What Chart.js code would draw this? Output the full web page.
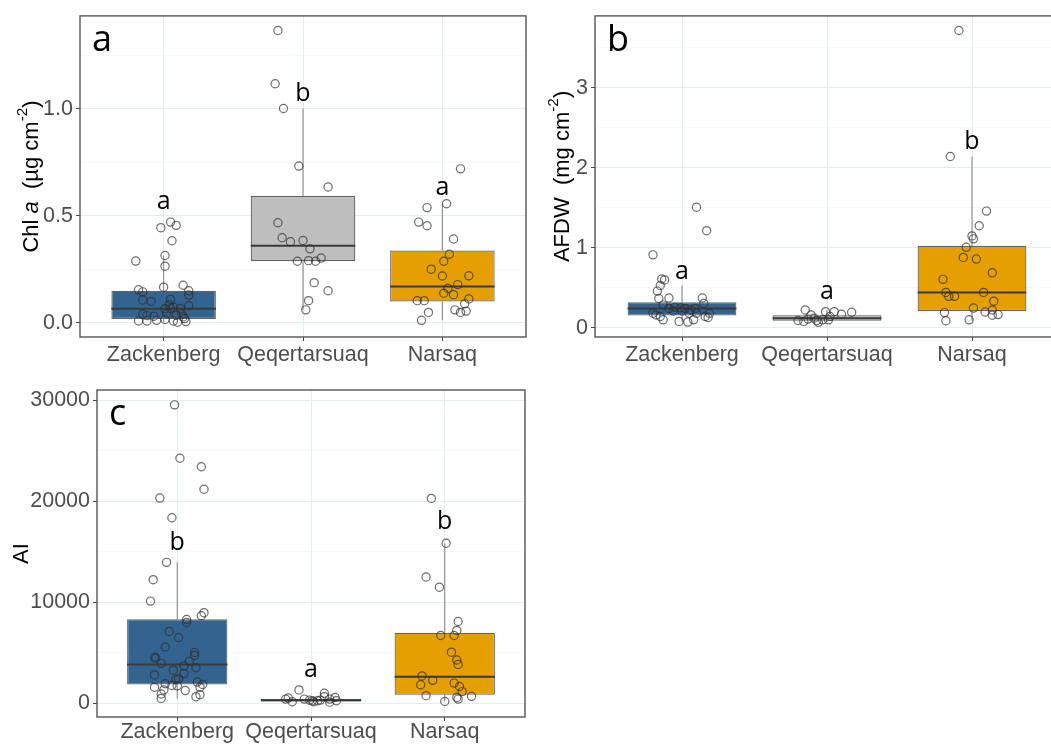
<!DOCTYPE html>
<html>
<head>
<meta charset="utf-8">
<title>Chl a, AFDW and AI by site</title>
<script src="https://cdn.jsdelivr.net/npm/chart.js@4.4.1/dist/chart.umd.min.js"></script>
<style>
  html, body { margin: 0; padding: 0; background: #fff; }
  body { position: relative; width: 1051px; height: 744px; overflow: hidden; }
  canvas { position: absolute; }
</style>
</head>
<body>
<canvas id="chlChart" width="540" height="372" style="left:0;top:0"></canvas>
<canvas id="afdwChart" width="540" height="372" style="left:530px;top:0"></canvas>
<canvas id="aiChart" width="540" height="372" style="left:0;top:372px"></canvas>
<script>
const sites = ["Zackenberg", "Qeqertarsuaq", "Narsaq"];
const siteColors = ["#33638f", "#bebebe", "#e69f00"];

// panel a: Chl a (µg cm-2)
const chlZack = [0.471, 0.445, 0.456, 0.384, 0.315, 0.289, 0.265, 0.176, 0.167, 0.155, 0.145, 0.150, 0.130, 0.107, 0.100, 0.110, 0.080, 0.066, 0.073, 0.084, 0.067, 0.040, 0.034, 0.031, 0.043, 0.035, 0.028, 0.009, 0.009, 0.012, 0.016, 0.009, 0.003, 0.006, 0.020, 0.066, 0.043];
const chlZackJit = [0.05, -0.02, 0.09, 0.06, 0.01, -0.20, 0.01, 0.14, 0, -0.18, -0.15, 0.18, 0.18, -0.15, -0.09, 0.05, 0.18, 0.01, 0.07, 0.04, 0.12, -0.15, -0.12, -0.07, 0.02, 0.09, 0.14, -0.18, -0.12, -0.05, 0.01, 0.07, 0.10, 0.16, 0.15, 0.05, 0.13];
const chlQeq = [1.367, 1.118, 1.002, 0.733, 0.635, 0.468, 0.398, 0.379, 0.385, 0.346, 0.303, 0.288, 0.291, 0.288, 0.188, 0.150, 0.104, 0.061];
const chlQeqJit = [-0.18, -0.20, -0.14, -0.03, 0.18, -0.18, -0.15, -0.09, 0, 0.05, 0.13, -0.04, 0.04, 0.09, 0.08, 0.18, 0.04, 0.02];
const chlNar = [0.720, 0.557, 0.539, 0.471, 0.454, 0.392, 0.321, 0.288, 0.251, 0.219, 0.220, 0.179, 0.162, 0.139, 0.132, 0.104, 0.104, 0.112, 0.089, 0.061, 0.049, 0.055, 0.049, 0.012];
const chlNarJit = [0.13, 0.03, -0.11, -0.17, -0.11, 0.08, 0.05, 0.01, -0.08, 0, 0.19, 0.11, 0.04, 0.01, 0.08, -0.18, -0.13, 0.19, 0.16, 0.09, 0.13, 0.17, -0.10, -0.15];
const chlQ1 = [0.018, 0.288, 0.100];
const chlMed = [0.066, 0.361, 0.170];
const chlQ3 = [0.150, 0.594, 0.338];
const chlLo = [0.003, 0.061, 0.012];
const chlHi = [0.315, 1.002, 0.557];
const chlLetters = ["a", "b", "a"];
const chlLetterY = [0.531, 1.035, 0.599];
const chlTicks = [0, 0.5, 1.0];
const chlTickLabels = ["0.0", "0.5", "1.0"];
const chlMinor = [0.25, 0.75, 1.25];

// panel b: AFDW (mg cm-2)
const afdwZack = [1.507, 1.213, 0.911, 0.609, 0.597, 0.527, 0.457, 0.364, 0.371, 0.371, 0.303, 0.282, 0.241, 0.254, 0.249, 0.241, 0.221, 0.241, 0.208, 0.208, 0.180, 0.180, 0.180, 0.159, 0.139, 0.098, 0.078, 0.070, 0.098, 0.139, 0.127, 0.180];
const afdwZackJit = [0.10, 0.17, -0.20, -0.14, -0.12, -0.15, -0.17, -0.16, -0.09, 0.14, 0.15, -0.13, -0.09, -0.05, -0.01, 0.02, 0.06, 0.09, 0, -0.06, 0.10, 0.19, -0.20, -0.18, -0.15, -0.13, -0.02, 0.04, 0.08, 0.16, 0.18, 0.05];
const afdwQeq = [0.221, 0.159, 0.200, 0.200, 0.168, 0.192, 0.089, 0.078, 0.107, 0.119, 0.089, 0.066, 0.098, 0.098, 0.139];
const afdwQeqJit = [-0.15, -0.11, -0.01, 0.05, 0.10, 0.17, -0.20, -0.16, -0.13, -0.09, -0.07, -0.06, -0.03, 0.01, 0.02];
const afdwNar = [3.717, 2.141, 1.458, 1.275, 1.148, 1.111, 1.005, 0.879, 0.858, 0.604, 0.686, 0.441, 0.392, 0.392, 0.441, 0.331, 0.245, 0.188, 0.196, 0.221, 0.156, 0.163, 0.086, 0.098];
const afdwNarJit = [-0.09, -0.15, 0.10, 0.05, 0, 0.01, -0.04, -0.06, 0.03, -0.20, 0.14, -0.18, -0.16, -0.12, 0.08, 0.15, 0.01, -0.19, 0.09, 0.14, 0.14, 0.18, -0.18, -0.02];
const afdwQ1 = [0.151, 0.086, 0.208];
const afdwMed = [0.241, 0.119, 0.441];
const afdwQ3 = [0.319, 0.156, 1.025];
const afdwLo = [0.070, 0.066, 0.086];
const afdwHi = [0.527, 0.221, 2.141];
const afdwLetters = ["a", "a", "b"];
const afdwLetterY = [0.613, 0.364, 2.234];
const afdwTicks = [0, 1, 2, 3];
const afdwTickLabels = ["0", "1", "2", "3"];
const afdwMinor = [0.5, 1.5, 2.5, 3.5];

// panel c: AI
const aiZack = [29529, 24242, 23401, 21178, 20303, 18350, 13939, 12222, 10101, 8956, 8653, 8283, 7980, 7104, 6498, 5556, 4545, 4444, 5017, 4714, 3939, 4141, 3670, 3502, 3266, 2929, 2795, 2323, 2424, 1919, 1751, 2088, 1852, 1582, 1717, 1582, 1313, 1246, 909, 842, 640, 471];
const aiZackJit = [-0.02, 0.02, 0.18, 0.20, -0.13, -0.04, -0.08, -0.18, -0.20, 0.20, 0.18, 0.07, 0.07, -0.06, 0.01, -0.09, -0.17, -0.16, 0.13, 0.13, -0.12, 0.09, 0.05, 0.14, -0.03, 0.05, -0.17, -0.01, 0.01, -0.09, -0.04, 0.15, 0.19, -0.17, 0, 0.17, -0.10, 0.06, -0.12, 0.17, 0.14, -0.12];
const aiQeq = [1313, 505, 135, 404, 236, 236, 976, 640, 572, 236, 101, 135, 303, 404, 303, 404];
const aiQeqJit = [-0.09, -0.17, -0.14, -0.05, 0.01, 0.05, 0.10, 0.10, 0.18, 0.19, 0.14, 0.02, 0.07, -0.19, -0.01, 0.14];
const aiNar = [20269, 15825, 12492, 11481, 8081, 7205, 6700, 6700, 5051, 4276, 3838, 2694, 2256, 1818, 1987, 1650, 1145, 741, 572, 404, 673, 168];
const aiNarJit = [-0.10, 0.01, -0.14, -0.04, 0.10, 0.09, -0.03, 0.07, 0.05, 0.09, 0.10, -0.17, -0.09, -0.18, 0.07, 0.11, 0.13, -0.14, 0.09, 0.10, 0.20, 0];
const aiQ1 = [1852, 168, 842];
const aiMed = [3838, 300, 2626];
const aiQ3 = [8316, 404, 6970];
const aiLo = [471, 101, 168];
const aiHi = [13939, 640, 15825];
const aiLetters = ["b", "a", "b"];
const aiLetterY = [15118, 2593, 17239];
const aiTicks = [0, 10000, 20000, 30000];
const aiTickLabels = ["0", "10000", "20000", "30000"];
const aiMinor = [5000, 15000, 25000];

Chart.defaults.font.family = "'Liberation Sans', Arial, sans-serif";
Chart.defaults.font.size = 21.5;
Chart.defaults.color = "#4d4d4d";

const gridMajor = "#e4eded";
const gridMinor = "#f1f6f6";

// whiskers, medians, frame, letters and y title
const boxExtras = {
  id: "boxExtras",
  beforeDatasetsDraw(chart, args, o) {
    const { ctx, scales: { x, y } } = chart;
    ctx.save();
    ctx.strokeStyle = "#8a8a8a";
    ctx.lineWidth = 1.1;
    o.lo.forEach((lo, i) => {
      const px = x.getPixelForValue(i + 1);
      ctx.beginPath();
      ctx.moveTo(px, y.getPixelForValue(lo));
      ctx.lineTo(px, y.getPixelForValue(o.q1[i]));
      ctx.moveTo(px, y.getPixelForValue(o.q3[i]));
      ctx.lineTo(px, y.getPixelForValue(o.hi[i]));
      ctx.stroke();
    });
    ctx.restore();
  },
  afterDatasetDraw(chart, args, o) {
    if (args.index !== 0) return;
    const { ctx, scales: { y } } = chart;
    const bars = chart.getDatasetMeta(0).data;
    ctx.save();
    ctx.strokeStyle = "#3a3a3a";
    ctx.lineWidth = 2;
    o.med.forEach((m, i) => {
      const b = bars[i];
      const py = y.getPixelForValue(m);
      ctx.beginPath();
      ctx.moveTo(b.x - b.width / 2, py);
      ctx.lineTo(b.x + b.width / 2, py);
      ctx.stroke();
    });
    ctx.restore();
  },
  afterDraw(chart, args, o) {
    const { ctx, chartArea: a, scales: { x, y } } = chart;
    ctx.save();
    ctx.strokeStyle = "#555";
    ctx.lineWidth = 1.4;
    ctx.strokeRect(a.left, a.top, a.right - a.left, a.bottom - a.top);

    ctx.fillStyle = "#000";
    ctx.textAlign = "center";
    ctx.textBaseline = "alphabetic";
    ctx.font = "25px 'Open Sans', sans-serif";
    o.letters.forEach((t, i) => {
      ctx.fillText(t, x.getPixelForValue(i + 1), y.getPixelForValue(o.letterY[i]));
    });

    ctx.textAlign = "left";
    ctx.font = "36px 'Open Sans', sans-serif";
    ctx.fillText(o.tag, a.left + 12, a.top + 35);

    // rotated y title with italic and superscript parts
    const size = 22;
    const fontFor = (p) => (p.italic ? "italic " : "") + (p.sup ? size * 0.7 : size) + "px 'Liberation Sans', Arial, sans-serif";
    let total = 0;
    o.title.forEach((p) => { ctx.font = fontFor(p); total += ctx.measureText(p.t).width; });
    ctx.translate(o.titleX, (a.top + a.bottom) / 2);
    ctx.rotate(-Math.PI / 2);
    let cx = -total / 2;
    o.title.forEach((p) => {
      ctx.font = fontFor(p);
      ctx.fillText(p.t, cx, p.sup ? size * 0.36 - size * 0.5 : size * 0.36);
      cx += ctx.measureText(p.t).width;
    });
    ctx.restore();
  }
};

function makePanel(id, p) {
  const majorSet = new Set(p.yMajor);
  const yTicks = p.yMajor.concat(p.yMinor).sort((m, n) => m - n);
  const datasets = [{
    type: "bar",
    data: p.q1.map((q, i) => ({ x: i + 1, y: [q, p.q3[i]] })),
    backgroundColor: siteColors,
    borderColor: "rgba(60,60,60,0.8)",
    borderWidth: 1.2,
    borderSkipped: false,
    categoryPercentage: 1,
    barPercentage: 0.75,
    order: 1
  }];
  p.values.forEach((vals, g) => {
    datasets.push({
      type: "scatter",
      data: vals.map((v, i) => ({ x: g + 1 + p.jitter[g][i], y: v })),
      pointRadius: 4.1,
      pointBackgroundColor: "rgba(0,0,0,0)",
      pointBorderColor: "rgba(45,45,45,0.7)",
      pointBorderWidth: 1.2,
      order: 0
    });
  });

  return new Chart(document.getElementById(id), {
    type: "bar",
    data: { datasets },
    plugins: [boxExtras],
    options: {
      responsive: false,
      animation: false,
      events: [],
      devicePixelRatio: 1,
      layout: { padding: { left: 0, top: p.padTop, right: p.padRight, bottom: 0 } },
      plugins: {
        legend: { display: false },
        tooltip: { enabled: false },
        boxExtras: {
          q1: p.q1, q3: p.q3, med: p.med, lo: p.lo, hi: p.hi,
          letters: p.letters, letterY: p.letterY,
          tag: p.tag, title: p.title, titleX: p.titleX
        }
      },
      scales: {
        x: {
          type: "linear",
          min: 0.4,
          max: 3.6,
          offset: false,
          afterBuildTicks: (s) => { s.ticks = [1, 2, 3].map((v) => ({ value: v })); },
          afterFit: (s) => { s.height = p.xAxisH; },
          ticks: { callback: (v) => sites[v - 1], autoSkip: false, maxRotation: 0, padding: p.xPad },
          grid: { color: gridMajor, lineWidth: 1, offset: false, tickColor: "#444", tickLength: 4 },
          border: { display: false }
        },
        y: {
          type: "linear",
          min: p.yMin,
          max: p.yMax,
          afterBuildTicks: (s) => { s.ticks = yTicks.map((v) => ({ value: v })); },
          afterFit: (s) => { s.width = p.yAxisW; },
          ticks: {
            callback: (v) => (majorSet.has(v) ? p.yLabels[p.yMajor.indexOf(v)] : ""),
            padding: 3
          },
          grid: {
            color: (c) => (c.tick && majorSet.has(c.tick.value) ? gridMajor : gridMinor),
            lineWidth: (c) => (c.tick && majorSet.has(c.tick.value) ? 1 : 0.7),
            tickColor: (c) => (c.tick && majorSet.has(c.tick.value) ? "#444" : "rgba(0,0,0,0)"),
            tickLength: 4
          },
          border: { display: false }
        }
      }
    }
  });
}

makePanel("chlChart", {
  values: [chlZack, chlQeq, chlNar], jitter: [chlZackJit, chlQeqJit, chlNarJit],
  q1: chlQ1, med: chlMed, q3: chlQ3, lo: chlLo, hi: chlHi,
  letters: chlLetters, letterY: chlLetterY,
  yMajor: chlTicks, yLabels: chlTickLabels, yMinor: chlMinor,
  yMin: -0.066, yMax: 1.435,
  padTop: 10, padRight: 14, yAxisW: 80, xAxisH: 35, xPad: 1,
  tag: "a", titleX: 30,
  title: [{ t: "Chl " }, { t: "a", italic: true }, { t: "  (\u00b5g cm" }, { t: "-2", sup: true }, { t: ")" }]
});

makePanel("afdwChart", {
  values: [afdwZack, afdwQeq, afdwNar], jitter: [afdwZackJit, afdwQeqJit, afdwNarJit],
  q1: afdwQ1, med: afdwMed, q3: afdwQ3, lo: afdwLo, hi: afdwHi,
  letters: afdwLetters, letterY: afdwLetterY,
  yMajor: afdwTicks, yLabels: afdwTickLabels, yMinor: afdwMinor,
  yMin: -0.117, yMax: 3.90,
  padTop: 10, padRight: 11, yAxisW: 65, xAxisH: 35, xPad: 1,
  tag: "b", titleX: 31,
  title: [{ t: "AFDW  (mg cm" }, { t: "-2", sup: true }, { t: ")" }]
});

makePanel("aiChart", {
  values: [aiZack, aiQeq, aiNar], jitter: [aiZackJit, aiQeqJit, aiNarJit],
  q1: aiQ1, med: aiMed, q3: aiQ3, lo: aiLo, hi: aiHi,
  letters: aiLetters, letterY: aiLetterY,
  yMajor: aiTicks, yLabels: aiTickLabels, yMinor: aiMinor,
  yMin: -1370, yMax: 31000,
  padTop: 18, padRight: 15, yAxisW: 97, xAxisH: 27, xPad: -2,
  tag: "c", titleX: 20,
  title: [{ t: "AI" }]
});
</script>
</body>
</html>
